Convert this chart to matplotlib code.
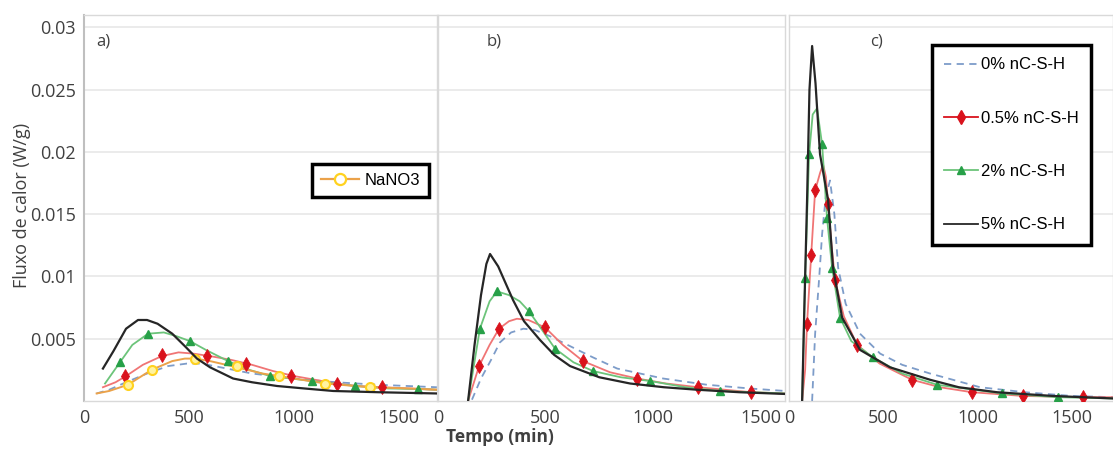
import matplotlib
matplotlib.use("Agg")
import matplotlib.pyplot as plt
from matplotlib.lines import Line2D

plt.rcParams['font.family'] = ['Open Sans', 'DejaVu Sans']

# ---- dados: fluxo de calor (W/g) x tempo (min) ----
# a) com NaNO3
a0_t = [60, 120, 200, 300, 400, 490, 560, 650, 800, 1000, 1200, 1400, 1680]
a0_q = [0.0006, 0.0009, 0.0015, 0.0022, 0.0028, 0.0030, 0.0030, 0.0027, 0.0022, 0.0018, 0.0015, 0.0013, 0.0011]
a05_t = [90, 150, 200, 280, 370, 450, 520, 600, 700, 800, 900, 1000, 1100, 1200, 1300, 1420, 1550, 1680]
a05_q = [0.0011, 0.0015, 0.0020, 0.0029, 0.0036, 0.0039, 0.0038, 0.0036, 0.0033, 0.0029, 0.0024, 0.0020, 0.0017, 0.0014, 0.0012, 0.0011, 0.0010, 0.0009]
a05_mt = [195, 371, 585, 771, 985, 1205, 1419]
a05_mq = [0.0020, 0.0037, 0.0036, 0.0030, 0.0020, 0.0014, 0.0011]
a2_t = [100, 171, 230, 305, 380, 440, 505, 580, 686, 786, 886, 1086, 1290, 1450, 1590, 1680]
a2_q = [0.0014, 0.0031, 0.0045, 0.0054, 0.0055, 0.0052, 0.0048, 0.0041, 0.0032, 0.0025, 0.0020, 0.0016, 0.0012, 0.0010, 0.00096, 0.0009]
a2_mt = [171, 305, 505, 686, 886, 1086, 1290, 1590]
a2_mq = [0.0031, 0.0054, 0.0048, 0.0032, 0.0020, 0.0016, 0.0012, 0.00096]
a5_t = [90, 140, 200, 257, 300, 350, 420, 480, 538, 600, 710, 800, 919, 1050, 1186, 1400, 1680]
a5_q = [0.0026, 0.0040, 0.0058, 0.0065, 0.0065, 0.0062, 0.0054, 0.0044, 0.0034, 0.0027, 0.0018, 0.0015, 0.0012, 0.0010, 0.0008, 0.0007, 0.0006]
an_t = [60, 120, 209, 322, 420, 480, 529, 600, 728, 850, 1000, 1148, 1362, 1550, 1680]
an_q = [0.0006, 0.0008, 0.0013, 0.0025, 0.0032, 0.0034, 0.0034, 0.0032, 0.0027, 0.0022, 0.0018, 0.0014, 0.0011, 0.0010, 0.0009]
an_mt = [209, 322, 529, 728, 930, 1148, 1362]
an_mq = [0.0013, 0.0025, 0.0034, 0.0028, 0.0020, 0.0014, 0.0011]

# b)
b0_t = [158, 200, 250, 288, 340, 397, 450, 520, 614, 720, 833, 1047, 1250, 1450, 1614]
b0_q = [0.0001, 0.0018, 0.0034, 0.0047, 0.0055, 0.0058, 0.0057, 0.0052, 0.0044, 0.0035, 0.0026, 0.0018, 0.0013, 0.0010, 0.0008]
b05_t = [140, 191, 240, 284, 330, 367, 420, 498, 580, 674, 800, 926, 1060, 1209, 1456, 1614]
b05_q = [0.0, 0.0028, 0.0045, 0.0058, 0.0064, 0.0066, 0.0065, 0.0059, 0.0045, 0.0032, 0.0023, 0.0018, 0.0014, 0.0011, 0.0007, 0.0006]
b05_mt = [191, 284, 498, 674, 926, 1209, 1456]
b05_mq = [0.0028, 0.0058, 0.0059, 0.0032, 0.0018, 0.0011, 0.0007]
b2_t = [140, 195, 240, 274, 330, 380, 423, 480, 544, 630, 721, 850, 986, 1150, 1312, 1614]
b2_q = [0.0, 0.0058, 0.0080, 0.0088, 0.0085, 0.0080, 0.0072, 0.0058, 0.0042, 0.0031, 0.0024, 0.0019, 0.0016, 0.0011, 0.0008, 0.0006]
b2_mt = [195, 274, 423, 544, 721, 986, 1312]
b2_mq = [0.0058, 0.0088, 0.0072, 0.0042, 0.0024, 0.0016, 0.0008]
b5_t = [140, 170, 200, 225, 242, 280, 349, 400, 474, 540, 614, 750, 893, 1050, 1204, 1400, 1614]
b5_q = [0.0, 0.0045, 0.0085, 0.0110, 0.0118, 0.0108, 0.0081, 0.0064, 0.0049, 0.0037, 0.0028, 0.0019, 0.0014, 0.0011, 0.0009, 0.0007, 0.00056]

# c)
c0_t = [122, 138, 160, 175, 195, 217, 240, 260, 300, 376, 483, 600, 748, 1013, 1250, 1500, 1718]
c0_q = [0.0, 0.0054, 0.0100, 0.0134, 0.0165, 0.0177, 0.0150, 0.0107, 0.0078, 0.0054, 0.0038, 0.0029, 0.0022, 0.0011, 0.0007, 0.0004, 0.0003]
c05_t = [69, 85, 95, 117, 138, 164, 180, 195, 207, 225, 244, 290, 361, 480, 652, 800, 970, 1241, 1559, 1718]
c05_q = [0.0, 0.0025, 0.0062, 0.0117, 0.0169, 0.0183, 0.0190, 0.0180, 0.0158, 0.0125, 0.0097, 0.0068, 0.0045, 0.0030, 0.0017, 0.0011, 0.0007, 0.0004, 0.0003, 0.0003]
c05_mt = [95, 117, 138, 207, 244, 361, 652, 970, 1241, 1559]
c05_mq = [0.0062, 0.0117, 0.0169, 0.0158, 0.0097, 0.0045, 0.0017, 0.0007, 0.0004, 0.0003]
c2_t = [69, 85, 106, 125, 148, 175, 201, 228, 270, 330, 445, 600, 785, 1129, 1426, 1718]
c2_q = [0.0, 0.0099, 0.0198, 0.0230, 0.0235, 0.0206, 0.0147, 0.0107, 0.0067, 0.0048, 0.0035, 0.0022, 0.0013, 0.0006, 0.0003, 0.0002]
c2_mt = [85, 106, 175, 201, 228, 270, 445, 785, 1129, 1426]
c2_mq = [0.0099, 0.0198, 0.0206, 0.0147, 0.0107, 0.0067, 0.0035, 0.0013, 0.0006, 0.0003]
c5_t = [69, 80, 95, 108, 122, 140, 164, 207, 233, 281, 376, 535, 748, 900, 1103, 1400, 1718]
c5_q = [0.0, 0.0070, 0.0160, 0.0250, 0.0285, 0.0255, 0.0198, 0.0161, 0.0107, 0.0067, 0.0041, 0.0027, 0.0017, 0.0011, 0.0007, 0.0004, 0.0002]

x_ticks = [0, 500, 1000, 1500]
y_ticks = [0.005, 0.01, 0.015, 0.02, 0.025, 0.03]
y_ticklabels = ['0.005', '0.01', '0.015', '0.02', '0.025', '0.03']
series_labels = ['0% nC-S-H', '0.5% nC-S-H', '2% nC-S-H', '5% nC-S-H']

# cores
C_BLUE = '#7d9cc9'
C_RED_L = '#f07575'
C_RED = '#d9121c'
C_GREEN_L = '#6cc47a'
C_GREEN = '#27a048'
C_BLACK = '#262626'
C_ORANGE = '#eba24a'
C_YELLOW = '#ffd21f'
GRID = '#e8e8e8'
TXT = '#404040'

fig = plt.figure(figsize=(11.13, 4.51), dpi=100)
ax_a = fig.add_axes([0.0755, 0.111, 0.317, 0.856])
ax_b = fig.add_axes([0.3935, 0.111, 0.312, 0.856])
ax_c = fig.add_axes([0.709, 0.111, 0.291, 0.856])


def draw(ax, t0, q0, t05, q05, mt05, mq05, t2, q2, mt2, mq2, t5, q5):
    ax.plot(t0, q0, color=C_BLUE, lw=1.3, ls=(0, (4, 3)), zorder=3)
    ax.plot(t05, q05, color=C_RED_L, lw=1.3, zorder=3)
    ax.plot(mt05, mq05, ls='none', marker='d', ms=7, mew=0.6, mfc=C_RED, mec=C_RED, zorder=4)
    ax.plot(t2, q2, color=C_GREEN_L, lw=1.3, zorder=3)
    ax.plot(mt2, mq2, ls='none', marker='^', ms=5.5, mfc=C_GREEN, mec=C_GREEN, zorder=4)
    ax.plot(t5, q5, color=C_BLACK, lw=1.6, zorder=5)


draw(ax_a, a0_t, a0_q, a05_t, a05_q, a05_mt, a05_mq, a2_t, a2_q, a2_mt, a2_mq, a5_t, a5_q)
ax_a.plot(an_t, an_q, color=C_ORANGE, lw=1.4, zorder=3)
ax_a.plot(an_mt, an_mq, ls='none', marker='o', ms=6.5, mfc='#fff3a0', mec=C_YELLOW, mew=1.5, zorder=4)

draw(ax_b, b0_t, b0_q, b05_t, b05_q, b05_mt, b05_mq, b2_t, b2_q, b2_mt, b2_mq, b5_t, b5_q)
draw(ax_c, c0_t, c0_q, c05_t, c05_q, c05_mt, c05_mq, c2_t, c2_q, c2_mt, c2_mq, c5_t, c5_q)

limits = {ax_a: 1680, ax_b: 1614, ax_c: 1718}
for ax, xmax in limits.items():
    ax.set_xlim(0, xmax)
    ax.set_ylim(0, 0.031)
    ax.set_xticks(x_ticks)
    ax.set_xticklabels([str(v) for v in x_ticks], fontsize=13, color=TXT)
    ax.set_yticks(y_ticks)
    ax.grid(axis='y', color=GRID, lw=1.2)
    ax.set_axisbelow(True)
    ax.tick_params(length=0, pad=6)
    for s in ax.spines.values():
        s.set_color('#d9d9d9')
        s.set_linewidth(1.0)

ax_a.set_yticklabels(y_ticklabels, fontsize=13, color=TXT)
ax_a.spines['left'].set_color('#bfbfbf')
ax_a.spines['left'].set_linewidth(1.5)
ax_b.set_yticklabels([])
ax_c.set_yticklabels([])

for ax, lab, xp in [(ax_a, 'a)', 0.035), (ax_b, 'b)', 0.14), (ax_c, 'c)', 0.25)]:
    ax.text(xp, 0.93, lab, transform=ax.transAxes, fontsize=12, color=TXT,
            ha='left', va='center')

# legenda do NaNO3
h_na = Line2D([], [], color=C_ORANGE, lw=1.6, marker='o', ms=8, mfc='white',
              mec=C_YELLOW, mew=1.6)
leg_a = ax_a.legend([h_na], ['NaNO3'], loc='upper left', bbox_to_anchor=(0.646, 0.614),
                    borderaxespad=0, handlelength=2.3, handletextpad=0.3, borderpad=0.55,
                    fancybox=False, edgecolor='black', framealpha=1,
                    prop={'family': 'Liberation Sans', 'size': 12})
leg_a.get_frame().set_linewidth(2.5)

# legenda das series
handles = [
    Line2D([], [], color=C_BLUE, lw=1.3, ls=(0, (4, 3))),
    Line2D([], [], color=C_RED, lw=1.3, marker='d', ms=7),
    Line2D([], [], color=C_GREEN_L, lw=1.3, marker='^', ms=6, mfc=C_GREEN, mec=C_GREEN),
    Line2D([], [], color=C_BLACK, lw=1.3),
]
leg_c = ax_c.legend(handles, series_labels, loc='upper left', bbox_to_anchor=(0.441, 0.922),
                    borderaxespad=0, handlelength=2.0, handletextpad=0.18, borderpad=0.75,
                    labelspacing=2.3, fancybox=False, edgecolor='black', framealpha=1,
                    prop={'family': 'Liberation Sans', 'size': 12})
leg_c.get_frame().set_linewidth(2.5)

fig.text(22 / 1113, 1 - 205 / 451, 'Fluxo de calor (W/g)', rotation=90, fontsize=13,
         color=TXT, ha='center', va='center')
fig.text(500 / 1113, 1 - 437 / 451, 'Tempo (min)', fontsize=12.5, fontweight='bold',
         color=TXT, ha='center', va='center')

fig.savefig('out.png', dpi=100)
